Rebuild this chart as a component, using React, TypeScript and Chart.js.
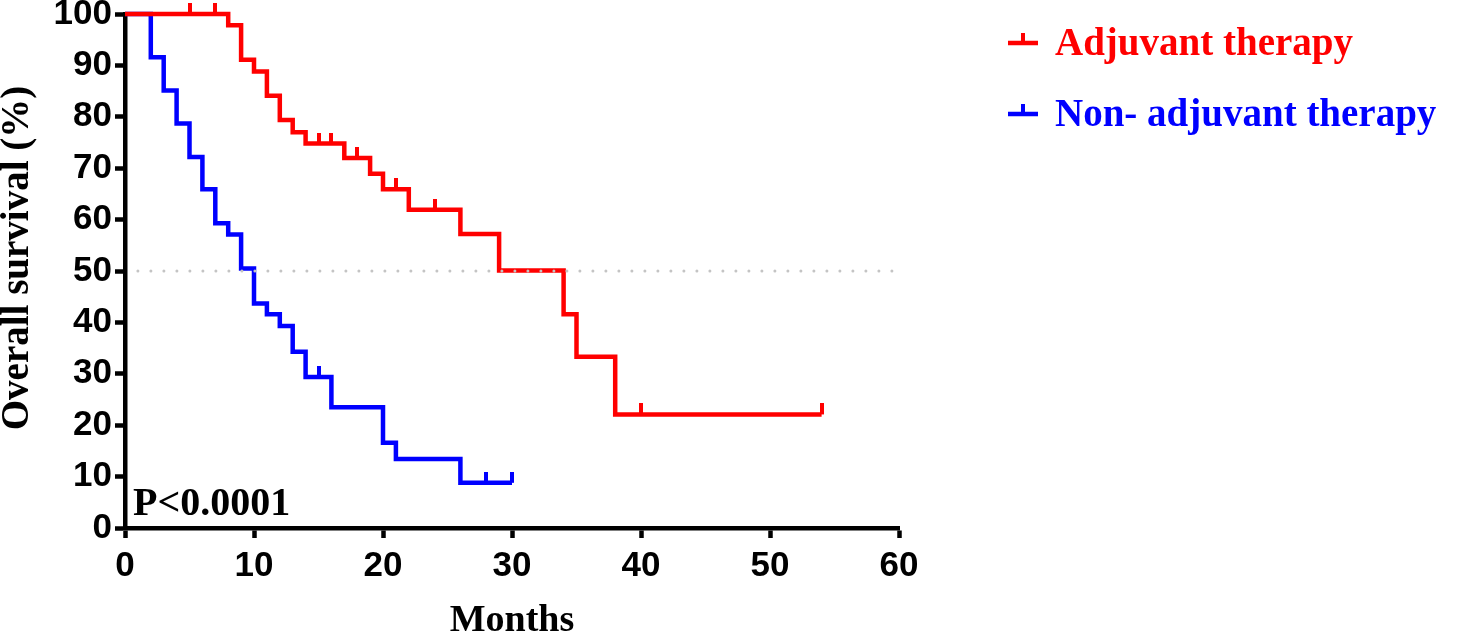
import { Chart, registerables } from "chart.js";
import React, { useEffect, useRef } from "react";

Chart.register(...registerables);

// Kaplan-Meier steps (months, % surviving)
const adjuvantMonths = [0, 8, 9, 10, 11, 12, 13, 14, 17, 19, 20, 22, 26, 29, 34, 35, 38, 54];
const adjuvantSurvival = [100, 97.8, 91.1, 88.8, 84.1, 79.4, 77.0, 74.8, 72.0, 68.9, 65.9, 61.9, 57.2, 50.1, 41.6, 33.3, 22.1, 22.1];
const adjuvantCensorMonths = [5, 7, 15, 16, 18, 21, 24, 40, 54];
const adjuvantCensorSurvival = [100, 100, 74.8, 74.8, 72.0, 65.9, 61.9, 22.1, 22.1];

const nonAdjuvantMonths = [0, 2, 3, 4, 5, 6, 7, 8, 9, 10, 11, 12, 13, 14, 16, 20, 21, 26, 30];
const nonAdjuvantSurvival = [100, 91.6, 85.1, 78.7, 72.2, 65.9, 59.3, 57.1, 50.5, 43.7, 41.6, 39.3, 34.3, 29.4, 23.5, 16.6, 13.4, 8.8, 8.8];
const nonAdjuvantCensorMonths = [15, 28, 30];
const nonAdjuvantCensorSurvival = [29.4, 8.8, 8.8];

const medianMonths = [1, 59.5];
const medianSurvival = [50, 50];

const seriesNames = ["Adjuvant therapy", "Non- adjuvant therapy"];
const seriesColors = ["#ff0000", "#0000ff"];
const yTitle = "Overall survival (%)";
const pValueText = "P<0.0001";

const SERIF = "'Liberation Serif', 'Times New Roman', serif";
const SANS = "'Liberation Sans', Arial, sans-serif";

const toPoints = (xs: number[], ys: number[]) => xs.map((x, i) => ({ x, y: ys[i] }));

// small vertical tick sitting on top of the curve (censored subject)
const censorMark = (color: string) => {
  const c = document.createElement("canvas");
  c.width = 4;
  c.height = 22;
  const g = c.getContext("2d")!;
  g.fillStyle = color;
  g.fillRect(0, 0, 4, 11);
  return c;
};

const extrasPlugin = {
  id: "kmExtras",
  afterDraw(chart: Chart) {
    const { ctx, chartArea } = chart;
    ctx.save();
    ctx.textBaseline = "alphabetic";
    ctx.textAlign = "left";

    // p value
    ctx.fillStyle = "#000";
    ctx.font = `bold 40px ${SERIF}`;
    ctx.fillText(pValueText, chartArea.left + 8, chartArea.bottom - 13);

    // y axis title, a bit above the axis centre as in the figure
    ctx.save();
    ctx.translate(28, 258);
    ctx.rotate(-Math.PI / 2);
    ctx.textAlign = "center";
    ctx.font = `bold 39px ${SERIF}`;
    ctx.fillText(yTitle, 0, 0);
    ctx.restore();

    // legend
    const rows = [43, 114];
    seriesNames.forEach((name, i) => {
      const y = rows[i];
      ctx.fillStyle = seriesColors[i];
      ctx.fillRect(1008, y - 2.25, 30, 4.5);
      ctx.fillRect(1021, y - 10, 4, 10);
      ctx.font = `bold 39px ${SERIF}`;
      ctx.fillText(name, 1055, y + 12);
    });
    ctx.restore();
  },
};

const KaplanMeier: React.FC = () => {
  const chartRef = useRef<HTMLCanvasElement>(null);

  useEffect(() => {
    document.body.style.margin = "0";
    if (!chartRef.current) return;
    const ctx = chartRef.current.getContext("2d");
    if (!ctx) return;

    const chart = new Chart(ctx, {
      type: "line",
      data: {
        datasets: [
          {
            label: "50%",
            data: toPoints(medianMonths, medianSurvival),
            borderColor: "#c4c4c4",
            borderWidth: 3,
            borderDash: [0, 13],
            borderCapStyle: "round",
            pointRadius: 0,
          },
          {
            label: seriesNames[0],
            data: toPoints(adjuvantMonths, adjuvantSurvival),
            borderColor: seriesColors[0],
            borderWidth: 4.5,
            stepped: "before",
            pointRadius: 0,
            clip: false,
          },
          {
            label: seriesNames[1],
            data: toPoints(nonAdjuvantMonths, nonAdjuvantSurvival),
            borderColor: seriesColors[1],
            borderWidth: 4.5,
            stepped: "before",
            pointRadius: 0,
            clip: false,
          },
          {
            label: seriesNames[0] + " censored",
            data: toPoints(adjuvantCensorMonths, adjuvantCensorSurvival),
            showLine: false,
            pointStyle: censorMark(seriesColors[0]),
            pointRadius: 5,
            clip: false,
          },
          {
            label: seriesNames[1] + " censored",
            data: toPoints(nonAdjuvantCensorMonths, nonAdjuvantCensorSurvival),
            showLine: false,
            pointStyle: censorMark(seriesColors[1]),
            pointRadius: 5,
            clip: false,
          },
        ],
      },
      options: {
        responsive: false,
        animation: false,
        layout: { padding: { top: 14, right: 577, bottom: 0, left: 0 } },
        plugins: {
          legend: { display: false },
          tooltip: { enabled: false },
        },
        scales: {
          x: {
            type: "linear",
            min: 0,
            max: 60,
            ticks: {
              stepSize: 10,
              color: "#000",
              padding: 11,
              maxRotation: 0,
              font: { family: SANS, size: 35, weight: "bold", lineHeight: 1 },
            },
            grid: {
              drawOnChartArea: false,
              drawTicks: true,
              tickLength: 10,
              tickWidth: 4.5,
              tickColor: "#000",
            },
            border: { display: true, color: "#000", width: 4.5 },
            title: {
              display: true,
              text: "Months",
              color: "#000",
              font: { family: SERIF, size: 38, weight: "bold", lineHeight: 1 },
              padding: { top: 0, bottom: -5 },
            },
            afterFit: (scale: any) => {
              scale.height = 107;
              scale.paddingLeft = 0;
              scale.paddingRight = 0;
            },
          },
          y: {
            min: 0,
            max: 100,
            ticks: {
              stepSize: 10,
              color: "#000",
              padding: 3,
              font: { family: SANS, size: 35, weight: "bold", lineHeight: 1 },
            },
            grid: {
              drawOnChartArea: false,
              drawTicks: true,
              tickLength: 10,
              tickWidth: 4.5,
              tickColor: "#000",
            },
            border: { display: true, color: "#000", width: 4.5 },
            afterFit: (scale: any) => {
              scale.width = 125;
              scale.paddingTop = 0;
              scale.paddingBottom = 0;
            },
          },
        },
      },
      plugins: [extrasPlugin],
    });

    return () => {
      chart.destroy();
    };
  }, []);

  return (
    <div style={{ width: 1476, height: 635 }}>
      <canvas ref={chartRef} width={1476} height={635} style={{ width: 1476, height: 635 }} />
    </div>
  );
};

export default function App() {
  return <KaplanMeier />;
}
